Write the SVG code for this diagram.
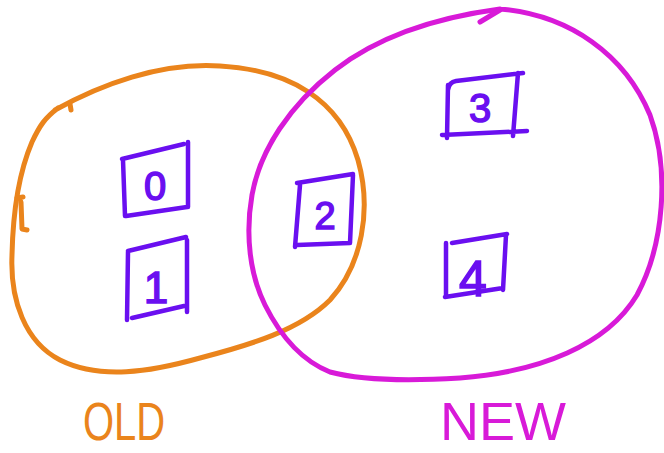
<svg xmlns="http://www.w3.org/2000/svg" width="664" height="453" viewBox="0 0 664 453">
<style>
.sk{fill:none;stroke-linecap:round;stroke-linejoin:round}
.old{stroke:#ea841c;stroke-width:5}
.new{stroke:#d81ad8;stroke-width:5}
.box{stroke:#6a0ff0;stroke-width:4.5}
.num{fill:#6a0ff0;stroke:#6a0ff0;stroke-width:1.5;font-family:"Liberation Sans",Arial,sans-serif;text-anchor:middle}
.lbl{font-family:"Liberation Sans",Arial,sans-serif;font-size:54px}
</style>
<rect width="664" height="453" fill="#fff"/>
<g id="set-old">
<path class="sk old" d="M55 110 C100 85,160 62,220 66 C290 70,340 100,358 160 C372 210,362 265,330 300 C300 330,250 345,200 358 C150 372,100 380,60 360 C25 342,10 300,12 255 C13 210,20 170,32 142 C40 125,45 118,58 108"/>
<path class="sk old" d="M70 104 L71 110 M17 198 L23 197 M21 202 L22 229 L27 230" stroke-width="4"/>
<text class="lbl" transform="translate(83,440) scale(0.74,1)" fill="#ea841c">OLD</text>
</g>
<g id="set-new">
<path class="sk new" d="M500 9 C570 15,625 55,650 115 C670 170,664 245,637 295 C607 345,540 372,460 378 C410 381,360 380,330 372 C300 360,280 335,265 305 C250 275,245 235,252 195 C260 150,290 105,335 70 C380 35,440 17,500 9"/>
<path class="sk new" d="M480 22 L500 10"/>
<text class="lbl" x="440" y="440" fill="#d81ad8">NEW</text>
</g>
<g id="node-0">
<path class="sk box" d="M122 159 L184 144 M188 142 L188 207 M126 216 L187 207 M123 160 L125 216"/>
<text class="num" x="155" y="200" font-size="40">0</text>
</g>
<g id="node-1">
<path class="sk box" d="M128 251 L186 237 M187 240 L187 312 M132 318 L184 306 M128 252 L127 320"/>
<text class="num" x="156" y="303" font-size="44">1</text>
</g>
<g id="node-2">
<path class="sk box" d="M297 183 L353 174 M353 175 L350 243 M297 245 L350 243 M300 185 L295 247"/>
<text class="num" x="325" y="229" font-size="38">2</text>
</g>
<g id="node-3">
<path class="sk box" d="M448 90 Q449 82 456 81 L523 73 M448 85 L447 138 M442 135 L527 131 M518 73 L513 136"/>
<text class="num" x="480" y="122" font-size="40">3</text>
</g>
<g id="node-4">
<path class="sk box" d="M452 243 L507 234 M446 243 L446 297 M445 297 L503 288 M506 235 L503 290"/>
<text class="num" x="473" y="296" font-size="50">4</text>
</g>
<g id="connectors"></g>
</svg>
